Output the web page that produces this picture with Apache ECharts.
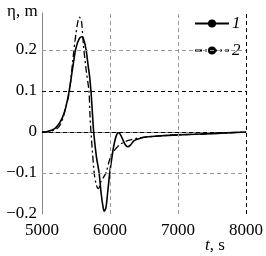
<!DOCTYPE html>
<html><head><meta charset="utf-8">
<script src="https://cdn.jsdelivr.net/npm/echarts@6/dist/echarts.min.js"></script>
<style>html,body{margin:0;padding:0;background:#fff}#c{width:266px;height:256px}</style>
</head><body><div id="c"></div>
<script>
const xTicks = [5000, 6000, 7000, 8000];
const yTicks = [-0.2, -0.1, 0, 0.1, 0.2];
const seriesNames = ['1', '2'];
const t1 = [5000,5050,5100,5150,5200,5250,5300,5350,5400,5450,5500,5550,5590,5620,5650,5680,5700,5720,5740,5760,5800,5840,5870,5900,5915,5940,5970,6000,6030,6060,6100,6130,6170,6220,6260,6300,6350,6400,6500,6700,7000,7500,8000];
const eta1 = [0,0.000,0.002,0.005,0.010,0.020,0.035,0.060,0.100,0.155,0.205,0.228,0.232,0.222,0.198,0.160,0.135,0.100,0.050,0.000,-0.060,-0.100,-0.150,-0.185,-0.193,-0.185,-0.140,-0.095,-0.060,-0.030,-0.006,-0.002,-0.012,-0.030,-0.036,-0.032,-0.022,-0.018,-0.013,-0.010,-0.007,-0.004,0.000];
const t2 = [5000,5100,5200,5250,5300,5350,5400,5450,5500,5550,5580,5610,5650,5690,5706,5720,5768,5800,5830,5870,5940,6000,6070,6100,6150,6250,6400,6500,6700,7000,7500,8000];
const eta2 = [0,0.001,0.006,0.013,0.030,0.060,0.095,0.170,0.240,0.280,0.270,0.210,0.150,0.100,0.040,0.000,-0.100,-0.130,-0.138,-0.120,-0.100,-0.065,-0.044,-0.038,-0.030,-0.022,-0.015,-0.013,-0.010,-0.007,-0.004,0.000];
const hGrid = [0.2, 0.1, 0, -0.1];
const hGridColor = ['#9a9a9a', '#000', '#000', '#9a9a9a'];
const vGrid = [6000, 7000, 8000];
const vGridColor = ['#9a9a9a', '#9a9a9a', '#000'];

const pairs = (xs, ys) => xs.map((x, i) => [x, ys[i]]);
const serif = '"Liberation Serif", "DejaVu Serif", "Times New Roman", serif';
const markData = hGrid.map((v, i) => ({yAxis: v, lineStyle: {color: hGridColor[i], type: [4, 3], width: 1}}))
  .concat(vGrid.map((v, i) => ({xAxis: v, lineStyle: {color: vGridColor[i], type: [4, 3], width: 1}})));

const chart = echarts.init(document.getElementById('c'), null, {renderer: 'canvas'});
chart.setOption({
  animation: false,
  grid: {left: 42, right: 19, top: 13, bottom: 42},
  xAxis: {
    type: 'value', min: 5000, max: 8000, interval: 1000,
    axisLine: {lineStyle: {color: '#888', width: 1}},
    axisTick: {show: false},
    splitLine: {show: false},
    axisLabel: {color: '#000', fontFamily: serif, fontSize: 17, margin: 8,
      formatter: v => xTicks.includes(v) ? String(v) : ''}
  },
  yAxis: {
    type: 'value', min: -0.2, max: 0.29, interval: 0.1,
    axisLine: {show: true, lineStyle: {color: '#888', width: 1}},
    axisTick: {show: false},
    splitLine: {show: false},
    axisLabel: {color: '#000', fontFamily: serif, fontSize: 17, margin: 5, showMaxLabel: false,
      formatter: v => {
        const r = Math.round(v * 10) / 10;
        if (!yTicks.some(t => Math.abs(t - v) < 1e-9)) return '';
        return r === 0 ? '0' : String(r).replace('-', '\u2212');
      }}
  },
  legend: {
    orient: 'vertical', left: 189, top: 10, itemWidth: 34, itemHeight: 10, itemGap: 10,
    textStyle: {fontFamily: serif, fontStyle: 'italic', fontSize: 17, color: '#000', padding: [0, 0, 0, -2]},
    data: seriesNames
  },
  series: [
    {name: seriesNames[0], type: 'line', data: pairs(t1, eta1), symbol: 'none', smooth: 0.3,
     lineStyle: {color: '#000', width: 1.6, type: 'solid'}, itemStyle: {color: '#000'},
     markLine: {silent: true, symbol: 'none', label: {show: false}, data: markData}, z: 3},
    {name: seriesNames[1], type: 'line', data: pairs(t2, eta2), symbol: 'none', smooth: 0.3,
     lineStyle: {color: '#000', width: 1.3, type: [7, 3, 2, 3]}, itemStyle: {color: '#000'}, z: 3}
  ],
  graphic: [
    {type: 'text', left: 7, top: 3, style: {text: '\u03b7, m', fontFamily: serif, fontSize: 17, fill: '#000'}},
    {type: 'text', left: 205, top: 237, style: {text: '{i|t}, s', fontFamily: serif, fontSize: 17, fill: '#000',
      rich: {i: {fontFamily: serif, fontStyle: 'italic', fontSize: 17}}}}
  ]
});
</script></body></html>
